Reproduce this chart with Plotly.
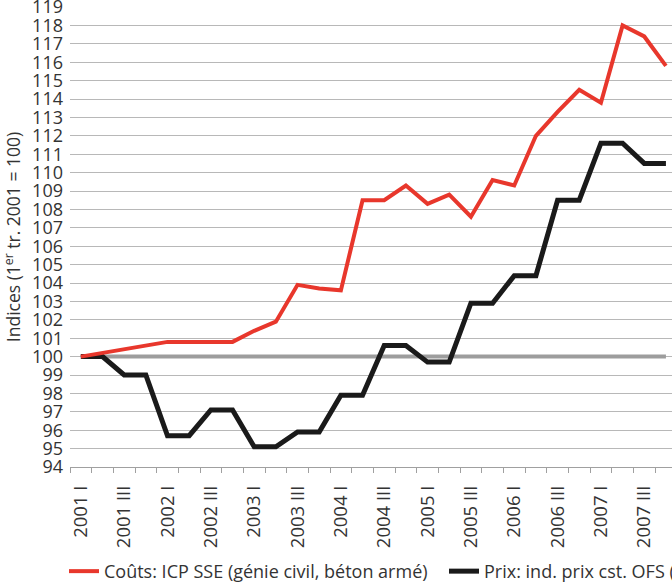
import plotly.graph_objects as go

years = [2001, 2002, 2003, 2004, 2005, 2006, 2007]
quarters = ["I", "II", "III", "IV"]
categories = [f"{y} {q}" for y in years for q in quarters]

couts_icp = [100.0, 100.2, 100.4, 100.6, 100.8, 100.8, 100.8, 100.8,
             101.4, 101.9, 103.9, 103.7, 103.6, 108.5, 108.5, 109.3,
             108.3, 108.8, 107.6, 109.6, 109.3, 112.0, 113.3, 114.5,
             113.8, 118.0, 117.4, 115.8]
prix_ofs = [100.0, 100.0, 99.0, 99.0, 95.7, 95.7, 97.1, 97.1,
            95.1, 95.1, 95.9, 95.9, 97.9, 97.9, 100.6, 100.6,
            99.7, 99.7, 102.9, 102.9, 104.4, 104.4, 108.5, 108.5,
            111.6, 111.6, 110.5, 110.5]
base = [100.0] * len(categories)

name_couts = "Coûts: ICP SSE (génie civil, béton armé)"
name_prix = "Prix: ind. prix cst. OFS (génie civil)"

y_ticks = list(range(94, 120))
x_idx = list(range(len(categories)))
tick_idx = x_idx[::2]
tick_text = categories[::2]

FONT = "Open Sans"
W, H = 1000, 582
L, T, B = 70, 7.3, 115.3
STEP = 21.67                      # px per quarter
PW = W - L - 30                   # plot area runs past the visible window
PH = H - T - B
x_hi = -0.5 + PW / STEP

fig = go.Figure()
fig.add_trace(go.Scatter(x=x_idx, y=base, mode="lines", showlegend=False,
                         line=dict(color="#9d9d9d", width=4), hoverinfo="skip"))
fig.add_trace(go.Scatter(x=x_idx, y=prix_ofs, mode="lines", name=name_prix,
                         line=dict(color="#1a1a1a", width=5)))
fig.add_trace(go.Scatter(x=x_idx, y=couts_icp, mode="lines", name=name_couts,
                         line=dict(color="#e8372c", width=4)))

fig.update_layout(
    width=W, height=H,
    margin=dict(l=L, r=W - L - PW, t=T, b=B, autoexpand=False),
    paper_bgcolor="white", plot_bgcolor="white",
    font=dict(family=FONT, color="#333333", size=18),
    showlegend=True,
    legend=dict(orientation="h", x=(64 - L) / PW, xref="paper",
                y=(PH + T - 571) / PH, yref="paper", yanchor="middle",
                xanchor="left", font=dict(size=18, color="#333333"),
                traceorder="reversed", itemwidth=30,
                entrywidth=335, entrywidthmode="pixels",
                bgcolor="rgba(0,0,0,0)"),
    xaxis=dict(range=[-0.5, x_hi], tickmode="array", tickvals=tick_idx,
               ticktext=tick_text, tickangle=-90, ticks="", showgrid=False,
               showline=True, linecolor="#a0a0a0", linewidth=1.3,
               ticklabelstandoff=10, zeroline=False,
               ticklabeloverflow="allow",
               minor=dict(tick0=-0.5, dtick=1, ticks="outside", ticklen=5,
                          tickcolor="#a0a0a0", tickwidth=1.3, showgrid=False),
               tickfont=dict(size=18.5)),
    yaxis=dict(range=[94, 119], tickmode="array", tickvals=y_ticks,
               showgrid=True, gridcolor="#b8b8b8", gridwidth=1.3,
               zeroline=False, showline=False, ticks="",
               ticklabeloverflow="allow",
               ticklabelstandoff=6, tickfont=dict(size=18),
               title=dict(text="Indices (1<sup>er</sup> tr. 2001 = 100)",
                          font=dict(size=17.5), standoff=12)),
)

fig.write_html("out.html", post_script="document.body.style.margin='0px';")
